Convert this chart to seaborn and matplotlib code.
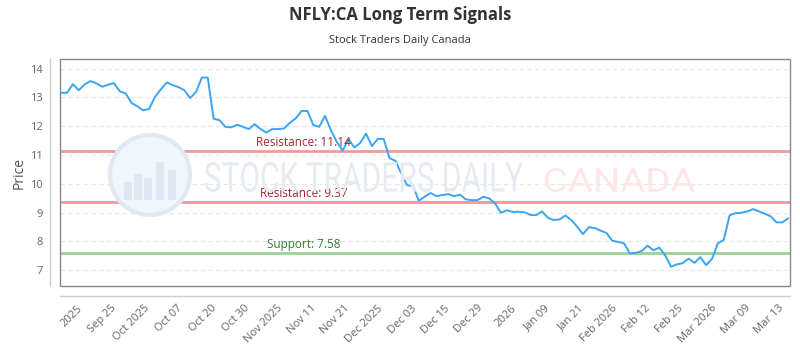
import numpy as np
import pandas as pd
import seaborn as sns
import matplotlib.pyplot as plt
from matplotlib.patches import Rectangle, Circle, PathPatch
from matplotlib.textpath import TextPath
from matplotlib.font_manager import FontProperties
import matplotlib.transforms as mtransforms

# closing prices, one per trading day
prices = [13.16, 13.16, 13.46, 13.25, 13.45, 13.57, 13.49, 13.37, 13.44, 13.50,
          13.21, 13.14, 12.81, 12.69, 12.55, 12.60, 13.02, 13.28, 13.52, 13.43,
          13.36, 13.25, 12.98, 13.19, 13.69, 13.69, 12.26, 12.21, 11.98, 11.96,
          12.05, 11.98, 11.90, 12.07, 11.90, 11.78, 11.90, 11.90, 11.92, 12.12,
          12.27, 12.53, 12.53, 12.04, 11.98, 12.36, 11.86, 11.46, 11.15, 11.55,
          11.26, 11.42, 11.74, 11.31, 11.56, 11.56, 10.89, 10.80, 10.36, 9.95,
          9.92, 9.41, 9.55, 9.68, 9.57, 9.61, 9.64, 9.57, 9.62, 9.46,
          9.43, 9.43, 9.55, 9.49, 9.32, 8.99, 9.08, 9.02, 9.03, 9.01,
          8.92, 8.91, 9.04, 8.82, 8.74, 8.76, 8.90, 8.74, 8.51, 8.25,
          8.49, 8.46, 8.37, 8.29, 8.02, 7.98, 7.93, 7.58, 7.60, 7.66,
          7.85, 7.69, 7.78, 7.52, 7.12, 7.20, 7.24, 7.40, 7.25, 7.45,
          7.17, 7.39, 7.93, 8.05, 8.90, 8.98, 8.99, 9.04, 9.12, 9.04,
          8.96, 8.87, 8.66, 8.66, 8.80]

tick_labels = ['2025', 'Sep 25', 'Oct 2025', 'Oct 07', 'Oct 20', 'Oct 30',
               'Nov 2025', 'Nov 11', 'Nov 21', 'Dec 2025', 'Dec 03', 'Dec 15',
               'Dec 29', '2026', 'Jan 09', 'Jan 21', 'Feb 2026', 'Feb 12',
               'Feb 25', 'Mar 2026', 'Mar 09', 'Mar 13']

resistance_levels = [11.14, 9.37]
support_levels = [7.58]

df = pd.DataFrame({'day': np.arange(len(prices)), 'price': prices})

sns.set_style('white')
plt.rcParams['font.family'] = ['Open Sans', 'DejaVu Sans']

W, H = 800, 350
fig = plt.figure(figsize=(8, 3.5), dpi=100)
ax = fig.add_axes([0.075, 0.183, 0.9125, 0.648])
px = mtransforms.IdentityTransform()


def stretched_text(s, x0, x1, ytop, ybot, color):
    # text squeezed into a pixel box (top-left origin)
    tp = TextPath((0, 0), s, size=40, prop=FontProperties(family='Roboto'))
    ext = tp.get_extents()
    tr = (mtransforms.Affine2D()
          .translate(-ext.x0, -ext.y0)
          .scale((x1 - x0) / ext.width, (ybot - ytop) / ext.height)
          .translate(x0, H - ybot))
    fig.patches.append(PathPatch(tr.transform_path(tp), transform=px,
                                 facecolor=color, edgecolor='none', zorder=0))


# watermark
fig.patches.append(Circle((150, H - 175), 40, transform=px, facecolor='#f1f6fd',
                          edgecolor='#e2e8f1', lw=3, zorder=0))
for bx, bh in [(124, 18), (134, 26), (144, 22), (156, 38), (168, 30)]:
    fig.patches.append(Rectangle((bx, H - 200), 8, bh, transform=px,
                                 facecolor='#e0e7f2', edgecolor='none', zorder=0))
fig.lines.append(plt.Line2D([118, 135, 152, 168, 180], [H - 170, H - 168, H - 155, H - 163, H - 158],
                            transform=px, color='#e0e7f2', lw=2, zorder=0))
stretched_text('STOCK TRADERS DAILY', 205, 523, 162, 192, '#e6ebf2')
stretched_text('CANADA', 545, 695, 168, 192, '#fde6e6')
ax.patch.set_alpha(0)

sns.lineplot(data=df, x='day', y='price', ax=ax, color='#3aa5f2', linewidth=1.4, zorder=3)

# spines first: moving them resets the tick objects
for side in ['top', 'right']:
    ax.spines[side].set_visible(False)
for side in ['left', 'bottom']:
    ax.spines[side].set_position(('outward', 7.2))
    ax.spines[side].set_color('#cccccc')
    ax.spines[side].set_linewidth(1)
ax.add_patch(Rectangle((0, 0), 1, 1, transform=ax.transAxes, fill=False,
                       edgecolor='#888888', lw=1, clip_on=False, zorder=5))

blend = mtransforms.blended_transform_factory(ax.transAxes, ax.transData)
for lvl, xf in zip(resistance_levels, [0.268, 0.274]):
    ax.axhline(lvl, color='#ef8f92', lw=2, alpha=0.9, zorder=2)
    ax.text(xf, lvl + 0.08, f'Resistance: {lvl:.2f}', transform=blend, color='#a3282c',
            fontsize=8.5, ha='left', va='bottom', zorder=4)
for lvl in support_levels:
    ax.axhline(lvl, color='#93cc8f', lw=2, alpha=0.9, zorder=2)
    ax.text(0.284, lvl + 0.08, f'Support: {lvl:.2f}', transform=blend, color='#2f7f2f',
            fontsize=8.5, ha='left', va='bottom', zorder=4)

ax.set_xlim(-0.2, len(prices) - 0.7)
ax.set_ylim(6.45, 14.33)
ax.set_yticks(range(7, 15))
ax.yaxis.grid(True, color='#e6e6e6', linestyle=(0, (4, 3)), lw=0.8)
ax.xaxis.grid(False)

ax.set_xticks(np.linspace(2.7, 122.3, len(tick_labels)))
ax.set_xticklabels(tick_labels)
ax.tick_params(axis='both', length=0, labelsize=8, labelcolor='#666666', pad=5)
ax.tick_params(axis='x', labelrotation=45)
for lbl in ax.get_xticklabels():
    lbl.set_ha('right')
    lbl.set_rotation_mode('anchor')

ax.set_xlabel('')
ax.set_ylabel('Price', fontsize=10, color='#555555', labelpad=3)

fig.text(0.5, 1 - 15 / 350, 'NFLY:CA Long Term Signals', ha='center', va='center',
         fontsize=12, fontweight='bold', color='#333333')
fig.text(0.5, 1 - 40 / 350, 'Stock Traders Daily Canada', ha='center', va='center',
         fontsize=8, color='#333333')

fig.savefig('out.png', dpi=100)
